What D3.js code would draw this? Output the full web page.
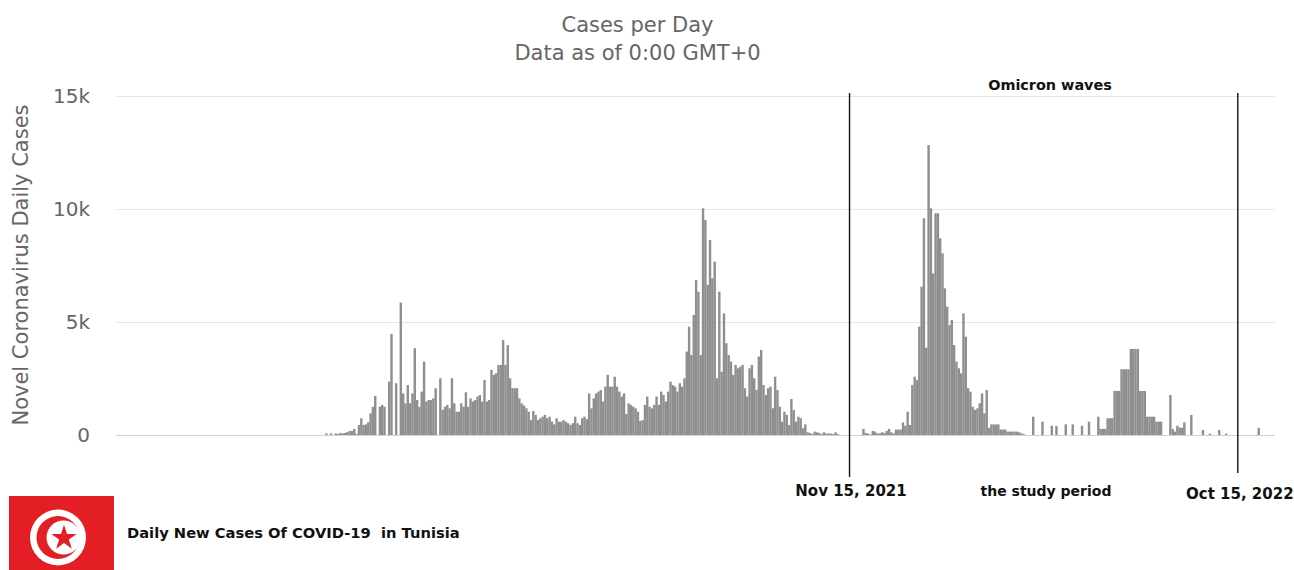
<!DOCTYPE html>
<html><head><meta charset="utf-8">
<script src="https://cdn.jsdelivr.net/npm/d3@7"></script>
<style>html,body{margin:0;padding:0;background:#fff}svg{display:block}</style>
</head><body><svg id="c" width="1294" height="570"></svg>
<script>
// Two-day samples, first sample on seriesStart
const wave2020 = [
70,0,70,0,70,40,90,70,90,130,
180,180,270,40,440,740,440,470,560,960,
1250,1730,0,1250,1330,1250,0,2360,4470,0,
2290,0,5860,1840,1400,2210,1400,1840,3840,1550,
1250,1920,3250,1480,1550,1550,1620,2070,0,2510,
1110,1250,1330,1180,2510,1400,1030,1030,1400,1250,
1890,1250,1620,1480,1550,1700,1770,1480,2430,1480,
1550,2880,2660,2730,3100,3100,4200,3100,3980,2510,
2070,2070,2070,1620,1400,1300,1180,1030,660,1060,
890,660,740,810,890,740,810,590,470,740,
590,590,660,590,520,440,520,810,520,440];
const wave2021 = [
740,810,700,1840,1180,1620,1840,1920,1990,1480,
2140,2660,2140,2140,2580,2140,1920,1700,1840,930,
1400,1330,1250,1180,1030,620,660,1330,1700,1250,
1180,1330,1700,1330,1920,1770,1480,1920,2360,2210,
2140,1920,2290,2140,2510,3690,4790,3540,5310,6860,
6340,3540,10030,9510,6640,8630,6930,7670,2510,6340,
2800,5380,4060,3540,3250,2660,3100,2950,3020,3100,
2070,1700,2950,3100,2510,1990,3470,3760,2210,1770,
2070,2140,1180,2580,1990,1250,590,1030,890,440,
1590,1110,590,810,740,300,470,120,90,40,
150,120,90,40,120,60,70,60,40,120,
40,0,0,0,0,0,0,0,0,0,0];
const omicron = [
270,90,60,20,180,150,70,70,120,90,
180,270,120,70,240,240,240,560,410,
1030,440,2210,2580,2430,4790,6560,9590,3860,12830,
10030,7150,9810,9810,8700,8040,6490,5680,4870,5090,
3980,3250,2950,2730,5380,4350,2070,1920,1250,1110,
1180,1400,1840,960,1990,320,470,470,470,470];
const late2022 = [
240,240,240,150,150,150,150,150,120,70,
30,0,0,0,810,0,0,0,590,0,
0,0,410,0,400,0,0,0,470,0,
0,470,0,0,0,410,0,0,590,0,
0,0,810,270,270,270,740,740,740,1950,
1950,1950,2910,2910,2910,2910,3810,3810,3810,3810,
1950,1950,1950,810,810,810,810,590,590,590,
0,0,0,1770,270,150,410,330,320,560,
0,0,890,0,0,0,0,220,0,0,
60,0,0,0,220,0,0,60,0,0,
0,0,0,0,0,0,0,0,0,0,
0,320];
const seriesStart = new Date(Date.UTC(2020,7,22));
const axisStart = new Date(Date.UTC(2020,1,23));
const axisEnd = new Date(Date.UTC(2022,10,16));
const yTicks = [0,5000,10000,15000];
const yTickLabels = ["0","5k","10k","15k"];
const titleLines = ["Cases per Day","Data as of 0:00 GMT+0"];
const yTitle = "Novel Coronavirus Daily Cases";
const markers = [
 {date:new Date(Date.UTC(2021,10,15)),label:"Nov 15, 2021"},
 {date:new Date(Date.UTC(2022,9,15)),label:"Oct 15, 2022"}];

const values = [...wave2020,...wave2021,...omicron,...late2022];
const data = values.map((v,i)=>({date:d3.utcDay.offset(seriesStart,2*i),v}));

const svg = d3.select("#c");
const sans = "'DejaVu Sans',sans-serif";
const x = d3.scaleUtc().domain([axisStart,axisEnd]).range([116,1275]);
const y = d3.scaleLinear().domain([0,15000]).range([435,96]);

// title
svg.append("g").selectAll("text").data(titleLines).join("text")
 .attr("x",637.5).attr("y",(d,i)=>32+i*28).attr("text-anchor","middle")
 .attr("font-family",sans).attr("font-size",21).attr("fill","#666").text(d=>d);

// grid + axis
const yAxis = d3.axisLeft(y).tickValues(yTicks).tickSize(-1159).tickPadding(26)
 .tickFormat((d,i)=>yTickLabels[i]);
const gy = svg.append("g").attr("transform","translate(116,0)").call(yAxis);
gy.select(".domain").remove();
gy.selectAll(".tick line").attr("stroke",d=>d===0?"none":"#e6e6e6").attr("stroke-width",1);
gy.selectAll(".tick text").attr("font-family",sans).attr("font-size",20).attr("fill","#666");

svg.append("text").attr("transform","translate(28,265) rotate(-90)").attr("text-anchor","middle")
 .attr("font-family",sans).attr("font-size",21).attr("fill","#666").text(yTitle);

// bars
const barW = 2.4;
svg.append("g").selectAll("rect").data(data.filter(d=>d.v>0)).join("rect")
 .attr("x",d=>x(d.date)-barW/2).attr("width",barW)
 .attr("y",d=>y(d.v)).attr("height",d=>y(0)-y(d.v)).attr("fill","#8f8f8f");

// baseline above bars
svg.append("line").attr("x1",116).attr("x2",1275).attr("y1",y(0)+0.5).attr("y2",y(0)+0.5)
 .attr("stroke","#c5d3ee").attr("stroke-width",1);

// study-period markers
svg.append("g").selectAll("line").data(markers).join("line")
 .attr("x1",d=>x(d.date)).attr("x2",d=>x(d.date)).attr("y1",93).attr("y2",(d,i)=>i?473:477)
 .attr("stroke","#111").attr("stroke-width",1.4);
const bold = (t,size)=>t.attr("font-family",sans).attr("font-weight","bold").attr("font-size",size).attr("fill","#111");
svg.append("g").selectAll("text").data(markers).join("text")
 .attr("x",(d,i)=>x(d.date)+(i?2:1.5)).attr("y",(d,i)=>i?499:496).attr("text-anchor","middle").text(d=>d.label).call(bold,15);
svg.append("text").attr("x",1050).attr("y",90).attr("text-anchor","middle").text("Omicron waves").call(bold,14.4);
svg.append("text").attr("x",1046).attr("y",496).attr("text-anchor","middle").text("the study period").call(bold,14);
svg.append("text").attr("x",127).attr("y",538).style("white-space","pre").text("Daily New Cases Of COVID-19  in Tunisia").call(bold,14.7);

// flag
const flag = svg.append("g");
flag.append("rect").attr("x",9).attr("y",496).attr("width",105).attr("height",74).attr("fill","#e31e24");
flag.append("circle").attr("cx",58).attr("cy",537.5).attr("r",28).attr("fill","#fff");
flag.append("circle").attr("cx",58).attr("cy",537.5).attr("r",21.5).attr("fill","#e31e24");
flag.append("circle").attr("cx",63.5).attr("cy",537.5).attr("r",17).attr("fill","#fff");
flag.append("path").attr("transform","translate(64,538)")
 .attr("d",d3.symbol(d3.symbolStar,200)()).attr("fill","#e31e24");
</script></body></html>
